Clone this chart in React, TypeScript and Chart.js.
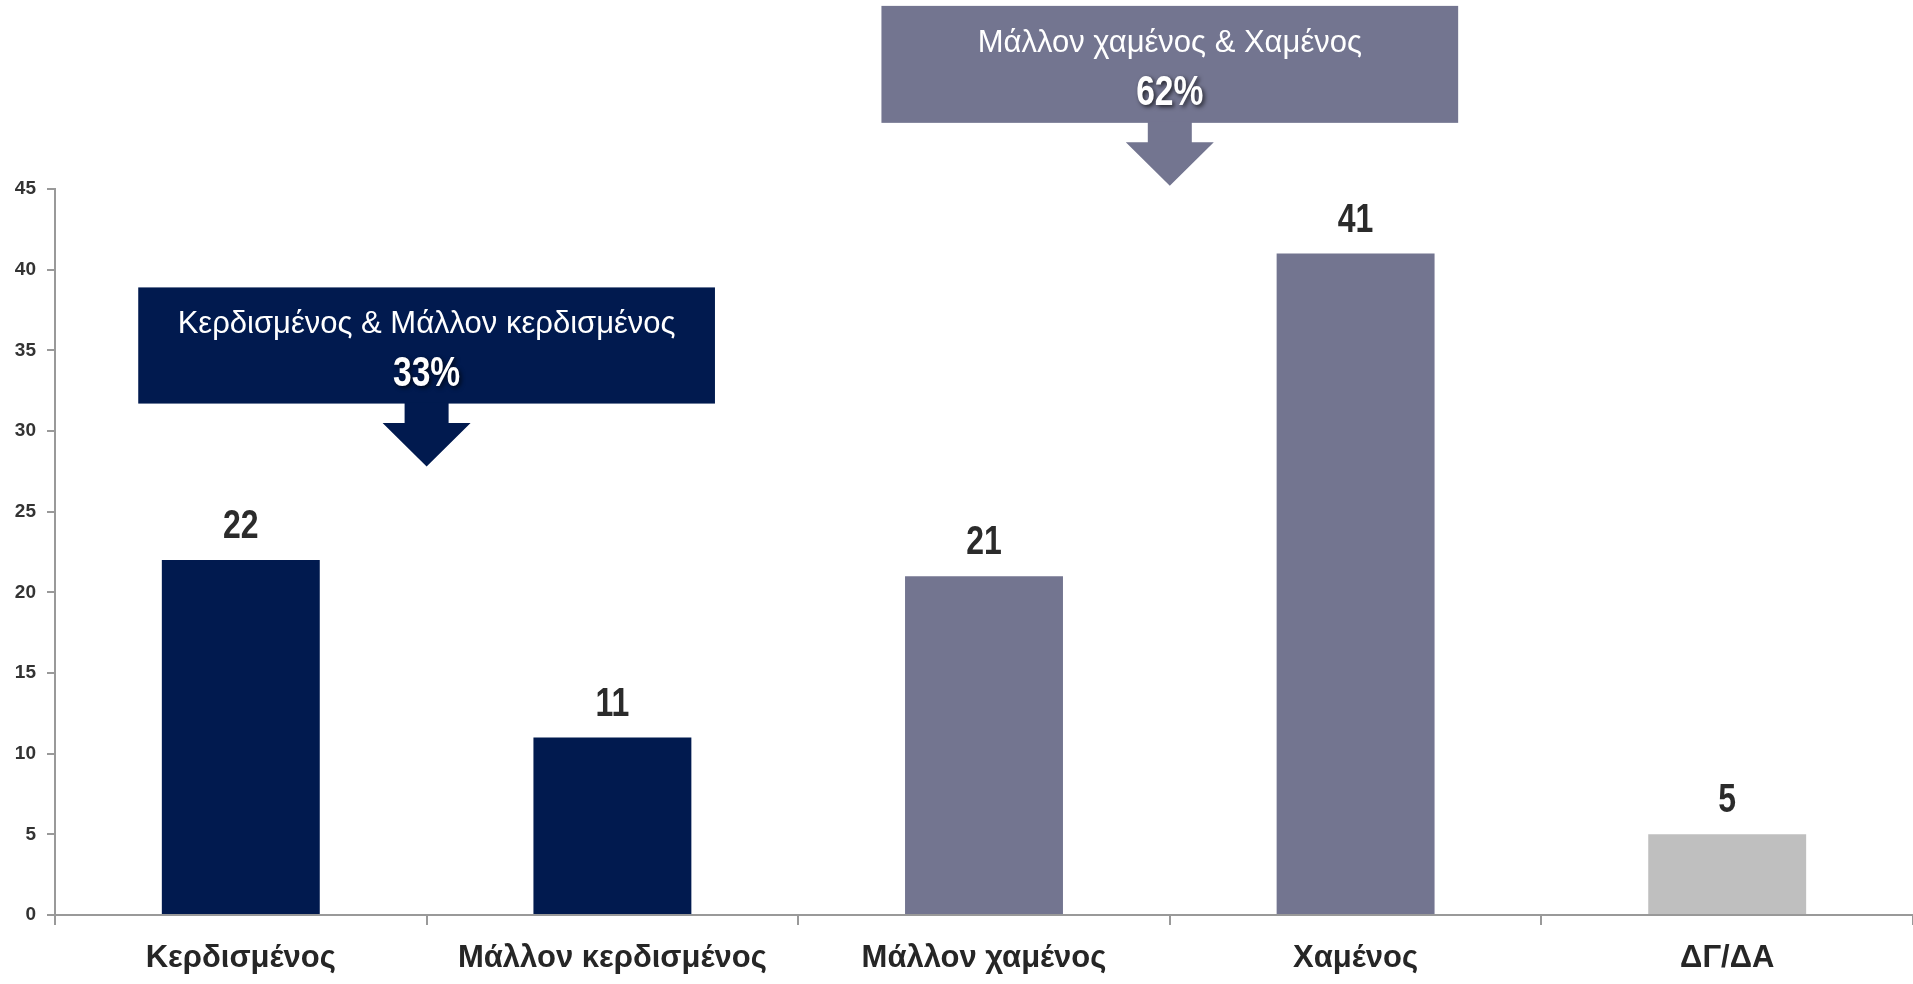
import React, { useEffect, useRef } from "react";
import { Chart, registerables } from "chart.js";

Chart.register(...registerables);

const categories = ["Κερδισμένος", "Μάλλον κερδισμένος", "Μάλλον χαμένος", "Χαμένος", "ΔΓ/ΔΑ"];
const values = [22, 11, 21, 41, 5];
const barColors = ["#011a4f", "#011a4f", "#737590", "#737590", "#bfbfbf"];
const yTicks = [0, 5, 10, 15, 20, 25, 30, 35, 40, 45];

const groupTitles = ["Κερδισμένος & Μάλλον κερδισμένος", "Μάλλον χαμένος & Χαμένος"];
const groupPercents = ["33%", "62%"];
const groupColors = ["#011a4f", "#737590"];

const FONT = "'Liberation Sans', Arial, sans-serif";
const NARROW_SCALE = 0.8;

// callout geometry in axis units (x: category index, y: value units)
const callouts = [
  { xCenter: 0.5, halfWidth: 0.776, top: 38.9, bottom: 31.7, stemEnd: 30.5, tip: 27.8 },
  { xCenter: 2.5, halfWidth: 0.776, top: 56.35, bottom: 49.1, stemEnd: 47.9, tip: 45.2 },
];

function scaledText(ctx: CanvasRenderingContext2D, text: string, x: number, y: number, sx: number) {
  ctx.save();
  ctx.translate(x, y);
  ctx.scale(sx, 1);
  ctx.fillText(text, 0, 0);
  ctx.restore();
}

const dataLabelPlugin = {
  id: "dataLabels",
  afterDatasetsDraw(chart: any) {
    const ctx = chart.ctx;
    const meta = chart.getDatasetMeta(0);
    ctx.save();
    ctx.font = `bold 40px ${FONT}`;
    ctx.fillStyle = "#2b2b2b";
    ctx.textAlign = "center";
    ctx.textBaseline = "alphabetic";
    meta.data.forEach((bar: any, i: number) => {
      scaledText(ctx, String(values[i]), bar.x, bar.y - 22, NARROW_SCALE);
    });
    ctx.restore();
  },
};

const xLabelPlugin = {
  id: "xLabels",
  afterDraw(chart: any) {
    const ctx = chart.ctx;
    const xs = chart.scales.x;
    ctx.save();
    ctx.font = `bold 31px ${FONT}`;
    ctx.fillStyle = "#262626";
    ctx.textAlign = "center";
    ctx.textBaseline = "alphabetic";
    categories.forEach((c, i) => {
      ctx.fillText(c, xs.getPixelForTick(i), xs.top + 52);
    });
    ctx.restore();
  },
};

const calloutPlugin = {
  id: "callouts",
  afterDraw(chart: any) {
    const ctx = chart.ctx;
    const xs = chart.scales.x;
    const ys = chart.scales.y;
    callouts.forEach((c, i) => {
      const cx = xs.getPixelForValue(c.xCenter);
      const unit = xs.getPixelForValue(1) - xs.getPixelForValue(0);
      const left = cx - c.halfWidth * unit;
      const right = cx + c.halfWidth * unit;
      const top = ys.getPixelForValue(c.top);
      const bottom = ys.getPixelForValue(c.bottom);
      const stemEnd = ys.getPixelForValue(c.stemEnd);
      const tip = ys.getPixelForValue(c.tip);
      const stemHalf = 22;
      const triHalf = 44;
      ctx.save();
      ctx.fillStyle = groupColors[i];
      ctx.fillRect(left, top, right - left, bottom - top);
      ctx.beginPath();
      ctx.moveTo(cx - stemHalf, bottom - 1);
      ctx.lineTo(cx + stemHalf, bottom - 1);
      ctx.lineTo(cx + stemHalf, stemEnd);
      ctx.lineTo(cx + triHalf, stemEnd);
      ctx.lineTo(cx, tip);
      ctx.lineTo(cx - triHalf, stemEnd);
      ctx.lineTo(cx - stemHalf, stemEnd);
      ctx.closePath();
      ctx.fill();
      ctx.fillStyle = "#ffffff";
      ctx.textAlign = "center";
      ctx.textBaseline = "alphabetic";
      ctx.font = `31px ${FONT}`;
      ctx.fillText(groupTitles[i], cx, top + 46);
      ctx.shadowColor = "rgba(0,0,0,0.7)";
      ctx.shadowBlur = 4;
      ctx.shadowOffsetX = 2;
      ctx.shadowOffsetY = 2;
      ctx.font = `bold 42px ${FONT}`;
      scaledText(ctx, groupPercents[i], cx, top + 99, NARROW_SCALE);
      ctx.restore();
    });
  },
};

export default function App() {
  const ref = useRef<HTMLCanvasElement | null>(null);
  useEffect(() => {
    document.body.style.margin = "0";
    const canvas = ref.current!;
    const chart = new Chart(canvas, {
      type: "bar",
      data: {
        labels: categories,
        datasets: [
          {
            data: values,
            backgroundColor: barColors,
            barPercentage: 0.425,
            categoryPercentage: 1,
          },
        ],
      },
      options: {
        responsive: false,
        animation: false,
        devicePixelRatio: 1,
        layout: { padding: { top: 189, right: 0, left: 0, bottom: 0 } },
        plugins: { legend: { display: false }, tooltip: { enabled: false } },
        scales: {
          x: {
            grid: { offset: true, drawOnChartArea: false, tickLength: 10, color: "#999999", lineWidth: 2 },
            border: { color: "#999999", width: 2 },
            ticks: {
              color: "rgba(0,0,0,0)",
              font: { family: FONT, size: 30, weight: "bold" },
              padding: 12,
              maxRotation: 0,
              autoSkip: false,
            },
            afterFit: (s: any) => { s.height = 69; },
          },
          y: {
            min: 0,
            max: 45,
            afterBuildTicks: (s: any) => { s.ticks = yTicks.map((v) => ({ value: v })); },
            grid: { drawOnChartArea: false, tickLength: 8, color: "#999999", lineWidth: 2 },
            border: { color: "#999999", width: 2 },
            ticks: {
              color: "#333333",
              font: { family: FONT, size: 19, weight: "bold" },
              padding: 11,
            },
            afterFit: (s: any) => { s.width = 55; },
          },
        },
      },
      plugins: [dataLabelPlugin, xLabelPlugin, calloutPlugin],
    });
    return () => chart.destroy();
  }, []);
  return (
    <div style={{ width: 1913, height: 984, background: "#ffffff" }}>
      <canvas ref={ref} width={1913} height={984} style={{ display: "block" }} />
    </div>
  );
}
